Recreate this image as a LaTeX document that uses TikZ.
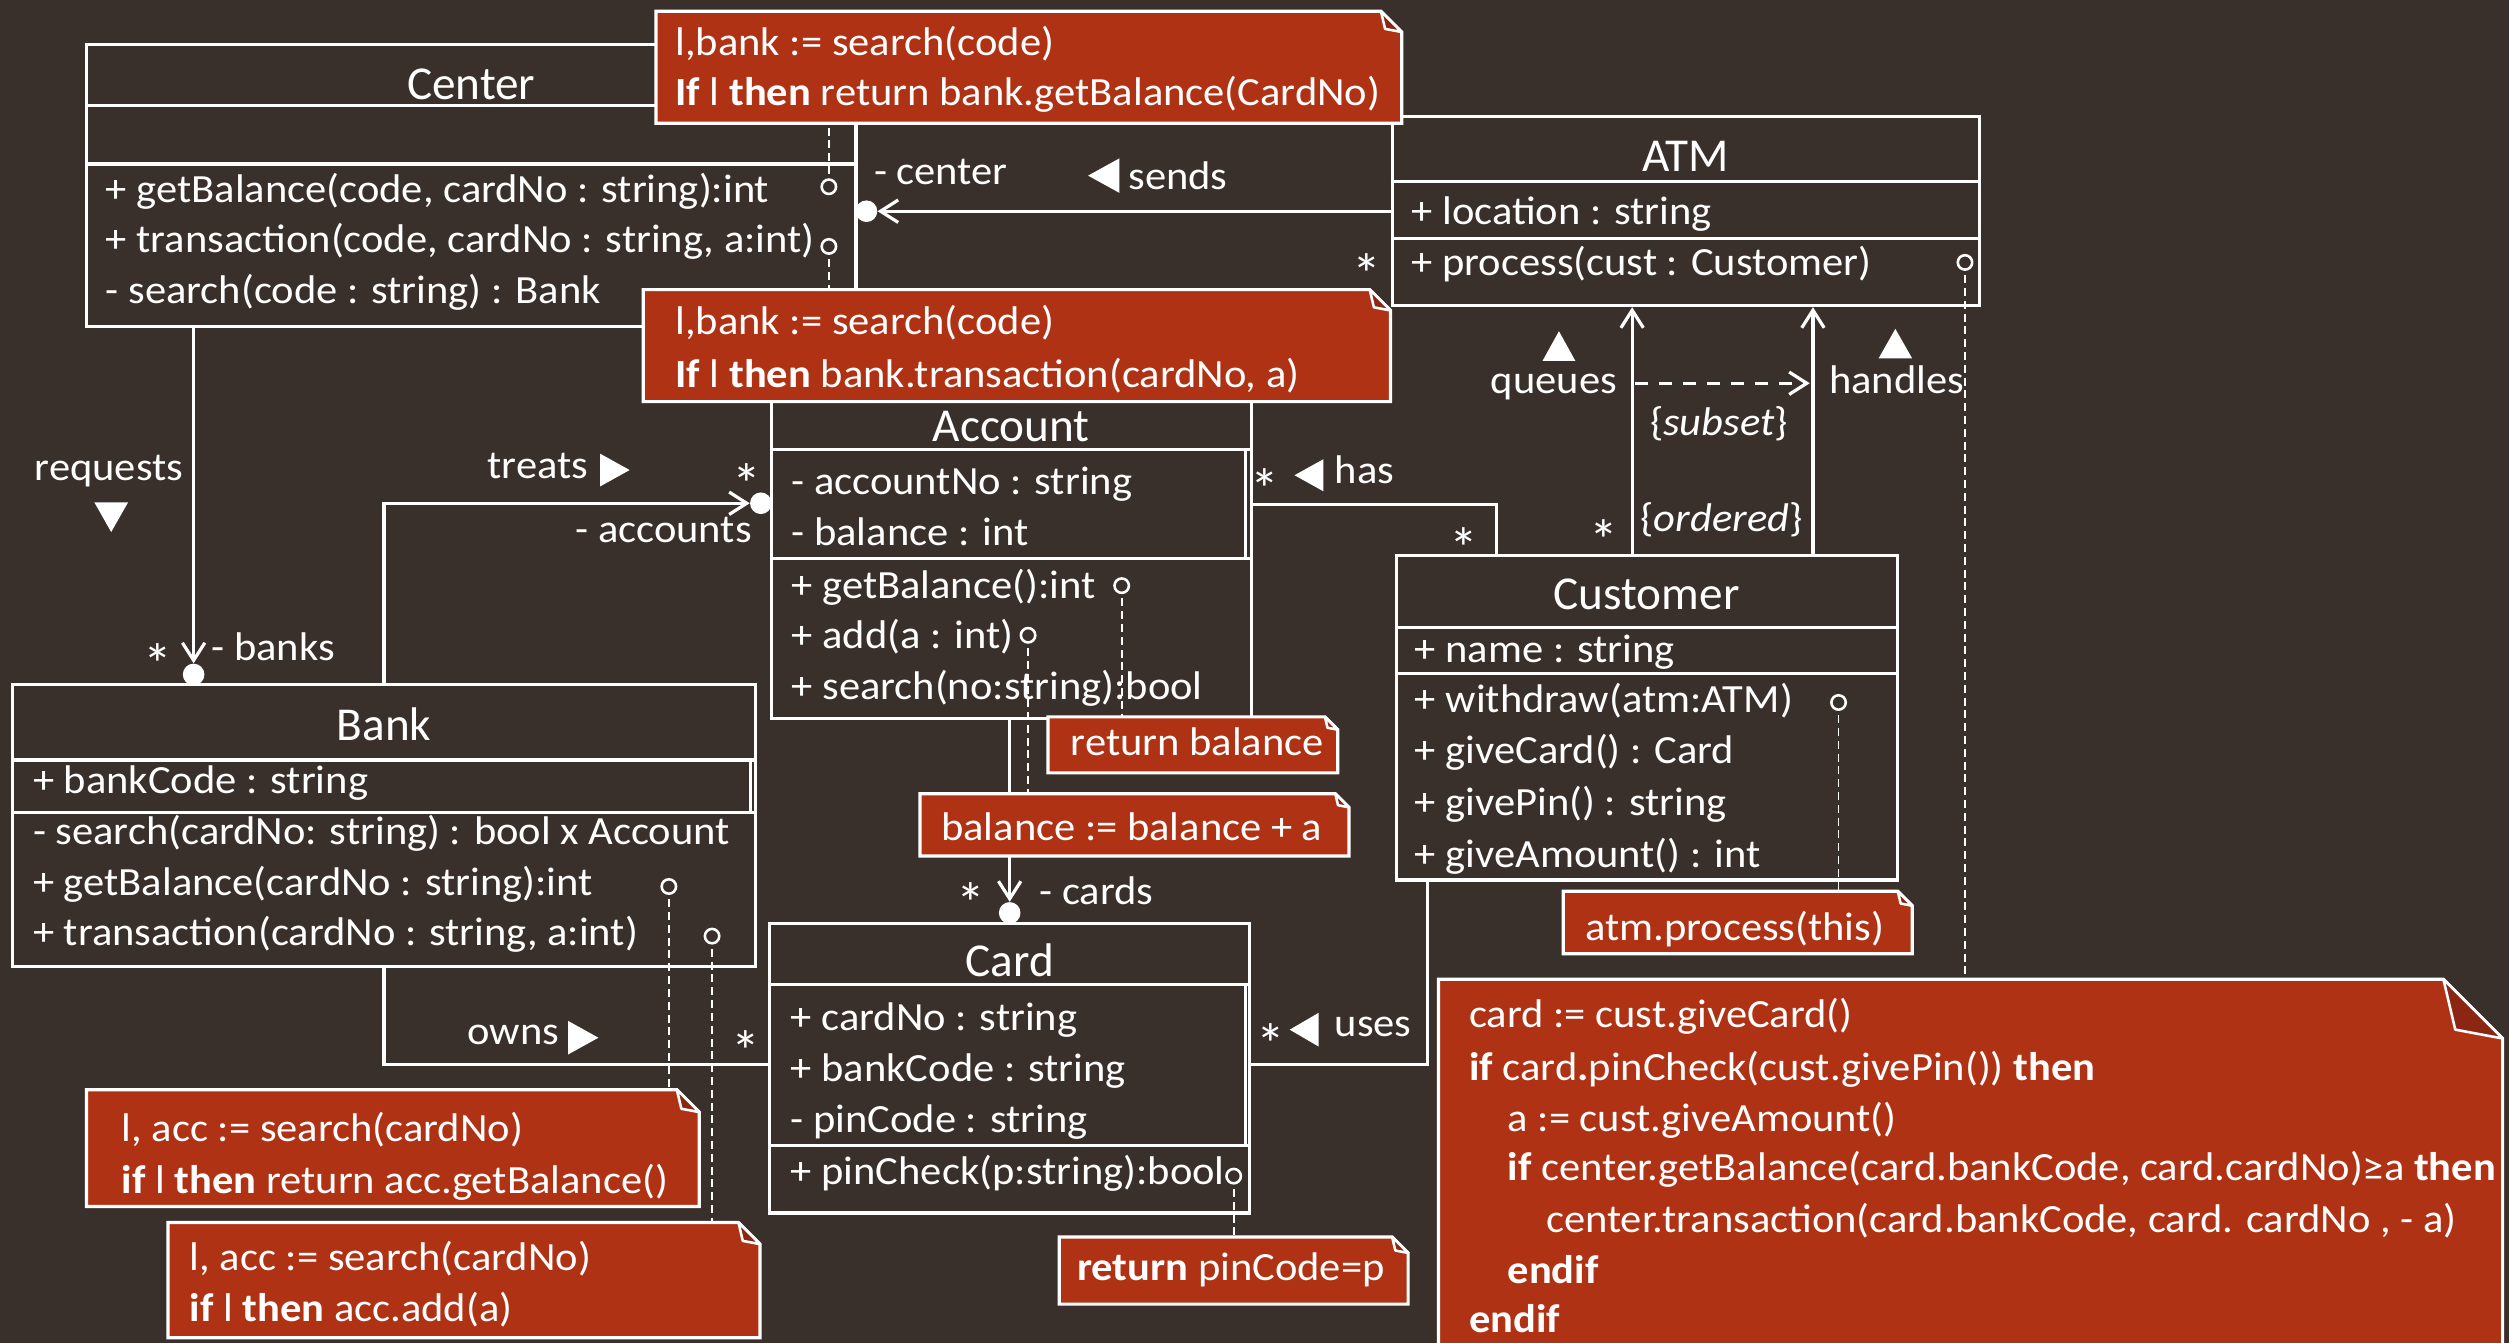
\documentclass[tikz,border=0pt]{standalone}
\usepackage{fontspec}
\setmainfont[FakeStretch=1.063]{Carlito}
\newfontfamily\titlefam{Carlito}
\usetikzlibrary{arrows.meta,fit}

\definecolor{bgc}{RGB}{58,48,43}
\definecolor{notec}{RGB}{176,50,21}
\definecolor{foldc}{RGB}{138,38,18}

\newcommand\bodyfont{\fontsize{25}{30}\selectfont}
\newcommand\titlefont{\titlefam\fontsize{29.5}{35}\selectfont}
\newcommand\starfont{\titlefam\fontsize{36}{40}\selectfont}

\tikzset{
  clsbox/.style={draw=white, line width=2pt, inner sep=0pt},
  sepline/.style={draw=white, line width=2pt},
  conn/.style={draw=white, line width=2pt},
  nav/.style={conn, -{Straight Barb[length=11pt,width=14pt]}},
  subsetarrow/.style={conn, dash pattern=on 8pt off 7pt, -{Straight Barb[length=11pt,width=14pt]}},
  owndot/.style={circle, fill=white, inner sep=0pt, minimum size=13.5pt},
  opmark/.style={circle, draw=white, fill=bgc, line width=1.6pt, inner sep=0pt, minimum size=9pt},
  notelink/.style={draw=white, line width=1pt, dash pattern=on 5pt off 3pt},
  notebody/.style={fill=notec, draw=white, line width=2pt, line join=miter},
  notefold/.style={fill=foldc, draw=white, line width=1.6pt, line join=round},
  txt/.style={anchor=base west, inner sep=0pt, text=white, font=\bodyfont},
  ttl/.style={anchor=base, inner sep=0pt, text=white, font=\titlefont},
  mult/.style={anchor=base, inner sep=0pt, text=white, font=\starfont},
  roletri/.style={fill=white},
}

% class frame: name, x1, y1, x2, y2
\newcommand\umlclass[5]{\node[clsbox, fit={(#2,#3) (#4,#5)}] (#1) {};}
% note with folded corner: name, x1, y1, x2, y2, fold size
\newcommand\umlnote[6]{%
  \path[notebody] (#2,#3) -- ({#4-#6},#3) -- (#4,{#3+#6}) -- (#4,#5) -- (#2,#5) -- cycle;
  \path[notefold] ({#4-#6},#3) -- ({#4-0.8*#6},{#3+0.85*#6}) -- (#4,{#3+#6}) -- cycle;
  \node[fit={(#2,#3) (#4,#5)}, inner sep=0pt] (#1) {};}
% text line: name, x, baseline, text
\newcommand\lbl[4]{\node[txt] (#1) at (#2,#3) {#4};}
% multiplicity star centred on x, y
\newcommand\mstar[3]{\node[mult] (#1) at (#2,{#3+19.5}) {*};}

\begin{document}
\begin{tikzpicture}[x=1pt, y=-1pt]
\fill[bgc] (0,0) rectangle (1568,839);
\useasboundingbox (0,0) rectangle (1568,839);

% ---------- classes ----------
\umlclass{Center}{54}{28}{535}{204}
\draw[sepline] (54,66) -- (535,66) (54,102.5) -- (535,102.5);

\umlclass{ATM}{870}{73}{1237}{191}
\draw[sepline] (870,113.5) -- (1237,113.5) (870,149) -- (1237,149);

\umlclass{Account}{482}{251}{782}{449}
\draw[sepline] (482,281) -- (782,281) (482,349) -- (782,349) (778.5,281) -- (778.5,349);

\umlclass{Bank}{8}{428}{472}{604}
\draw[sepline] (8,475) -- (472,475) (8,508) -- (472,508) (469,475) -- (469,508);

\umlclass{Card}{481}{577}{781}{758}
\draw[sepline] (481,615.5) -- (781,615.5) (481,716) -- (781,716) (778.5,615.5) -- (778.5,716);

\umlclass{Customer}{872.5}{347}{1186}{550}
\draw[sepline] (872.5,392) -- (1186,392) (872.5,421) -- (1186,421);

% ---------- association ends ----------
\node[owndot] (dCenter) at (541.5,132) {};
\node[owndot] (dBank) at (121,421.5) {};
\node[owndot] (dAcc) at (475.5,314.5) {};
\node[owndot] (dCard) at (631,570.5) {};

\coordinate (treatsBend) at (240,314.5);
\coordinate (hasBend) at (935,315.5);
\coordinate (ownsBend) at (240,665);
\coordinate (usesBend) at (892,665);
\coordinate (queuesX) at (1020,270);
\coordinate (handlesX) at (1133,270);
\coordinate (subsetA) at (1022,239.5);
\coordinate (subsetB) at (1131,239.5);

% ---------- associations ----------
\draw[nav] (ATM.west |- dCenter) -- (dCenter.east);
\draw[nav] (Center.south -| dBank) -- (dBank.north);
\draw[nav] (Bank.north -| treatsBend) -- (treatsBend) -- (dAcc.west);
\draw[nav] (Account.south -| dCard) -- (dCard.north);
\draw[conn] (Account.east |- hasBend) -- (hasBend) -- (Customer.north -| hasBend);
\draw[conn] (Bank.south -| ownsBend) -- (ownsBend) -- (Card.west |- ownsBend);
\draw[conn] (Customer.south -| usesBend) -- (usesBend) -- (Card.east |- usesBend);
\draw[nav] (Customer.north -| queuesX) -- (ATM.south -| queuesX);
\draw[nav] (Customer.north -| handlesX) -- (ATM.south -| handlesX);
\draw[subsetarrow] (subsetA) -- (subsetB);

% ---------- reading-direction triangles ----------
\fill[roletri] (59,314) -- (80,314) -- (69.5,332.5) -- cycle;        % requests
\fill[roletri] (375,283.5) -- (375,304) -- (393.5,293.75) -- cycle;  % treats
\fill[roletri] (699.5,99) -- (699.5,120.5) -- (680,109.75) -- cycle; % sends
\fill[roletri] (827,287) -- (827,307) -- (809,297) -- cycle;         % has
\fill[roletri] (964,225.5) -- (984.5,225.5) -- (974.25,207) -- cycle;% queues
\fill[roletri] (1174,224) -- (1195,224) -- (1184.5,205.5) -- cycle;  % handles
\fill[roletri] (355,638) -- (355,659) -- (374,648.5) -- cycle;       % owns
\fill[roletri] (824,633) -- (824,654) -- (806,643.5) -- cycle;       % uses

% ---------- operation markers and note links ----------
\coordinate (oC1p) at (518,116.7);
\coordinate (oC2p) at (518,154);
\coordinate (oATMp) at (1228,164);
\coordinate (oA1p) at (701,366);
\coordinate (oA2p) at (642.5,397);
\coordinate (oB1p) at (418,554);
\coordinate (oB2p) at (445,585);
\coordinate (oCardp) at (771,735);
\coordinate (oCustp) at (1149,439);

\draw[notelink] (oC1p) -- (oC1p |- 0,77);
\draw[notelink] (oC2p) -- (oC2p |- 0,181);
\draw[notelink] (oATMp) -- (oATMp |- 0,612);
\draw[notelink] (oA1p) -- (oA1p |- 0,448);
\draw[notelink] (oA2p) -- (oA2p |- 0,496);
\draw[notelink] (oB1p) -- (oB1p |- 0,681);
\draw[notelink] (oB2p) -- (oB2p |- 0,764);
\draw[notelink] (oCardp) -- (oCardp |- 0,773);
\draw[notelink] (oCustp) -- (oCustp |- 0,557);

\node[opmark] (oC1) at (oC1p) {};
\node[opmark] (oC2) at (oC2p) {};
\node[opmark] (oATM) at (oATMp) {};
\node[opmark] (oA1) at (oA1p) {};
\node[opmark] (oA2) at (oA2p) {};
\node[opmark] (oB1) at (oB1p) {};
\node[opmark] (oB2) at (oB2p) {};
\node[opmark] (oCard) at (oCardp) {};
\node[opmark] (oCust) at (oCustp) {};

% ---------- notes ----------
\umlnote{N1}{410}{7}{876}{77}{13}
\umlnote{N2}{402}{181}{869}{251}{13}
\umlnote{RB}{655}{448}{836}{483}{8}
\umlnote{BA}{575}{496}{843}{535}{8.5}
\umlnote{RP}{662}{773}{880}{815}{10}
\umlnote{AP}{977}{557}{1195}{596}{9}
\umlnote{GB}{54}{681}{437}{754}{14}
\umlnote{TX}{105}{764}{475}{836}{13.5}
\umlnote{BigN}{899}{612}{1564}{870}{37}

% ---------- class texts ----------
\node[ttl] (CenterT) at (294.5,62) {Center};
\lbl{CenterM1}{66}{126.5}{+ getBalance(code, cardNo : string):int}
\lbl{CenterM2}{66}{158}{+ transaction(code, cardNo : string, a:int)}
\lbl{CenterM3}{66}{189.5}{- search(code : string) : Bank}

\node[ttl] (ATMT) at (1053.5,107) {ATM};
\lbl{ATMA1}{882}{140.5}{+ location : string}
\lbl{ATMM1}{882}{172}{+ process(cust : Customer)}

\node[ttl] (AccountT) at (632,276) {Account};
\lbl{AccA1}{494.5}{309}{- accountNo : string}
\lbl{AccA2}{494.5}{341}{- balance : int}
\lbl{AccM1}{494.5}{374}{+ getBalance():int}
\lbl{AccM2}{494.5}{405.5}{+ add(a : int)}
\lbl{AccM3}{494.5}{437}{+ search(no:string):bool}

\node[ttl] (BankT) at (240,463) {Bank};
\lbl{BankA1}{20.5}{496}{+ bankCode : string}
\lbl{BankM1}{20.5}{528}{- search(cardNo: string) : bool x Account}
\lbl{BankM2}{20.5}{559.5}{+ getBalance(cardNo : string):int}
\lbl{BankM3}{20.5}{591}{+ transaction(cardNo : string, a:int)}

\node[ttl] (CardT) at (631,610) {Card};
\lbl{CardA1}{494}{644}{+ cardNo : string}
\lbl{CardA2}{494}{676}{+ bankCode : string}
\lbl{CardA3}{494}{707.5}{- pinCode : string}
\lbl{CardM1}{494}{740}{+ pinCheck(p:string):bool}

\node[ttl] (CustomerT) at (1029,381) {Customer};
\lbl{CustA1}{884}{414}{+ name : string}
\lbl{CustM1}{884}{445}{+ withdraw(atm:ATM)}
\lbl{CustM2}{884}{477}{+ giveCard() : Card}
\lbl{CustM3}{884}{509.5}{+ givePin() : string}
\lbl{CustM4}{884}{542}{+ giveAmount() : int}

% ---------- association labels ----------
\lbl{LCenter}{546}{115.5}{- center}
\lbl{LSends}{705}{118.5}{sends}
\lbl{LBanks}{132}{412.5}{- banks}
\lbl{LRequests}{21.5}{300}{requests}
\lbl{LTreats}{304.5}{299}{treats}
\lbl{LAccounts}{359.5}{339}{- accounts}
\lbl{LHas}{834}{302}{has}
\lbl{LQueues}{931.5}{246}{queues}
\lbl{LHandles}{1143}{246}{handles}
\lbl{LSubset}{1031}{272}{\{\textit{subset}\}}
\lbl{LOrdered}{1025}{332}{\{\textit{ordered}\}}
\lbl{LOwns}{292}{653}{owns}
\lbl{LUses}{834}{648}{uses}
\lbl{LCards}{649.5}{565.5}{- cards}

\mstar{S1}{854}{164.5}
\mstar{S2}{98.5}{408}
\mstar{S3}{466.5}{296}
\mstar{S4}{790.5}{299}
\mstar{S5}{915}{336}
\mstar{S6}{1002}{331}
\mstar{S7}{466}{650}
\mstar{S8}{794}{646}
\mstar{S9}{607}{557.5}

% ---------- note texts ----------
\lbl{N1a}{422}{34.5}{l,bank := search(code)}
\lbl{N1b}{422}{66}{\textbf{If} l \textbf{then} return bank.getBalance(CardNo)}
\lbl{N2a}{422}{209}{l,bank := search(code)}
\lbl{N2b}{422}{242}{\textbf{If} l \textbf{then} bank.transaction(cardNo, a)}
\lbl{RBa}{669}{472}{return balance}
\lbl{BAa}{588}{525}{balance := balance + a}
\lbl{RPa}{673}{800}{\textbf{return} pinCode=p}
\lbl{APa}{990.5}{587.5}{atm.process(this)}
\lbl{GBa}{76}{713.5}{l, acc := search(cardNo)}
\lbl{GBb}{76}{746}{\textbf{if} l \textbf{then} return acc.getBalance()}
\lbl{TXa}{118.5}{794}{l, acc := search(cardNo)}
\lbl{TXb}{118.5}{826}{\textbf{if} l \textbf{then} acc.add(a)}

\lbl{Bg1}{918}{642}{card := cust.giveCard()}
\lbl{Bg2}{918}{675}{\textbf{if} card\textbf{.}pinCheck(cust.givePin()) \textbf{then}}
\lbl{Bg3}{942}{707}{a := cust.giveAmount()}
\lbl{Bg4}{942}{738}{\textbf{if} center.getBalance(card.bankCode, card.cardNo)≥a \textbf{then}}
\lbl{Bg5}{966}{770}{center.transaction(card.bankCode, card. cardNo , - a)}
\lbl{Bg6}{942}{802}{\textbf{endif}}
\lbl{Bg7}{918}{833}{\textbf{endif}}
\end{tikzpicture}
\end{document}
